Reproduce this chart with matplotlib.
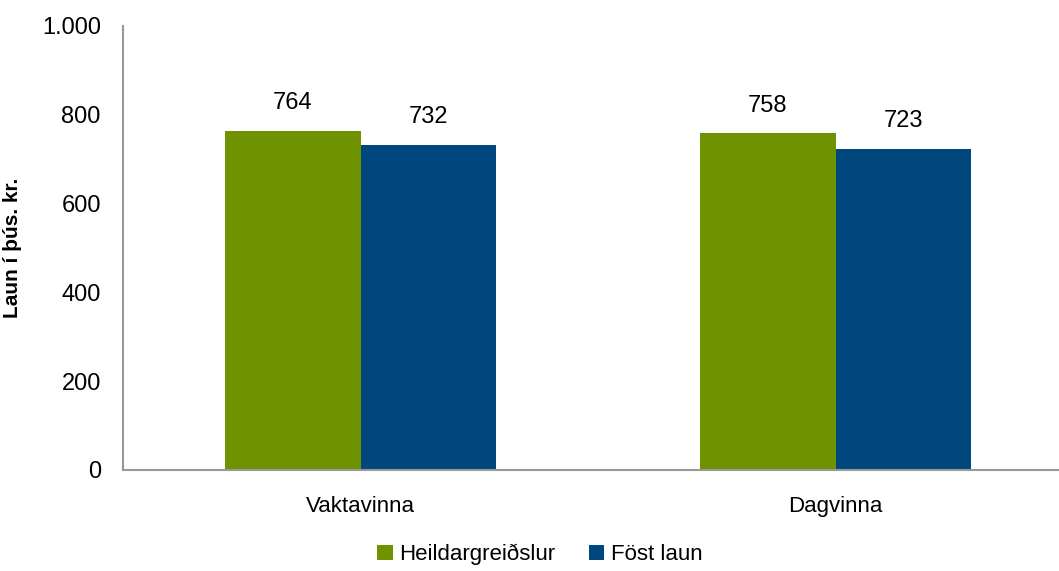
import matplotlib
matplotlib.use("Agg")
import matplotlib.pyplot as plt
import numpy as np

categories = ["Vaktavinna", "Dagvinna"]
heildar = [764, 758]
fost = [732, 723]
series_names = ["Heildargreiðslur", "Föst laun"]

plt.rcParams['font.family'] = ['Liberation Sans Narrow', 'Liberation Sans', 'DejaVu Sans']

fig = plt.figure(figsize=(10.59, 5.71), dpi=100)
ax = fig.add_axes([123 / 1059, 101 / 571, 950 / 1059, 444 / 571])

x = np.arange(len(categories))
w = 0.285
green = "#6f9200"
blue = "#00477d"
b1 = ax.bar(x - w / 2, heildar, w, color=green, label=series_names[0])
b2 = ax.bar(x + w / 2, fost, w, color=blue, label=series_names[1])

for bars in (b1, b2):
    for r in bars:
        ax.text(r.get_x() + r.get_width() / 2, r.get_height() + 38, f"{r.get_height():.0f}",
                ha="center", va="bottom", fontsize=17)

ax.set_xlim(-0.5, 1.5)
ax.set_ylim(0, 1000)
ax.set_yticks(range(0, 1001, 200))
ax.set_yticklabels(["0", "200", "400", "600", "800", "1.000"], fontsize=17)
ax.set_xticks(x)
ax.set_xticklabels(categories, fontsize=16)
ax.tick_params(length=0)
ax.tick_params(axis="y", pad=16)
ax.tick_params(axis="x", pad=19)
for s in ("top", "right"):
    ax.spines[s].set_visible(False)
for s in ("left", "bottom"):
    ax.spines[s].set_color("#999999")
    ax.spines[s].set_linewidth(1.5)
ax.set_ylabel("Laun í þús. kr.", fontsize=15, fontweight="bold")
ax.yaxis.set_label_coords(-0.106, 0.5)

fig.legend(handles=[b1, b2], loc="lower center", bbox_to_anchor=(540 / 1059, -0.025), ncol=2,
           frameon=False, fontsize=16, handlelength=0.7, handleheight=0.7, handletextpad=0.3,
           columnspacing=1.5)

fig.savefig("out.png", dpi=100)
